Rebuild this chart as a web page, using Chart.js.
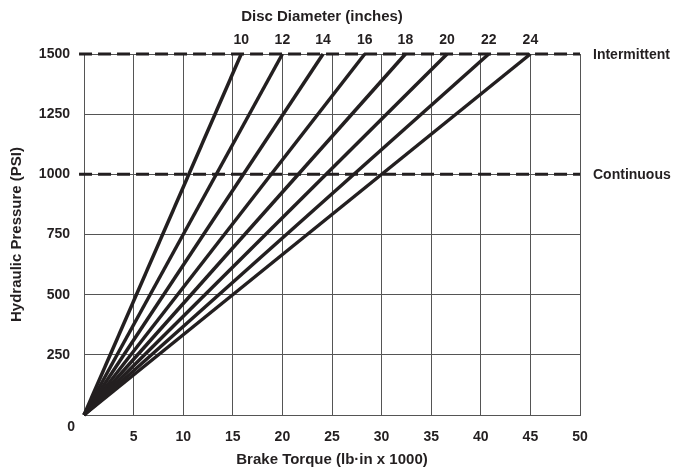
<!DOCTYPE html>
<html>
<head>
<meta charset="utf-8">
<script src="https://cdn.jsdelivr.net/npm/chart.js@4.4.1/dist/chart.umd.min.js"></script>
<style>
  html, body { margin: 0; padding: 0; background: #fff; }
  #wrap { width: 676px; height: 471px; }
</style>
</head>
<body>
<div id="wrap"><canvas id="chart" width="676" height="471"></canvas></div>
<script>
// disc diameter (inches) and brake torque (lb-in x 1000) reached at 1500 PSI
const diameters = [10, 12, 14, 16, 18, 20, 22, 24];
const torqueAt1500 = [15.85, 20.0, 24.1, 28.3, 32.4, 36.6, 40.8, 45.0];
const pressureLimits = [
  ["Intermittent", 1500],
  ["Continuous", 1000]
];
const xTicks = [5, 10, 15, 20, 25, 30, 35, 40, 45, 50];
const yTicks = [250, 500, 750, 1000, 1250, 1500];

const FONT = "'Liberation Sans', Arial, sans-serif";
const INK = "#231f20";

const lineSets = diameters.map((d, i) => ({
  label: `${d}"`,
  data: [{ x: 0, y: 0 }, { x: torqueAt1500[i], y: 1500 }],
  showLine: true,
  borderColor: INK,
  borderWidth: 3.5,
  pointRadius: 0,
  clip: false,
  order: 1
}));

const limitSets = pressureLimits.map(([name, psi]) => ({
  label: name,
  data: [{ x: -0.5, y: psi }, { x: 50, y: psi }],
  showLine: true,
  borderColor: INK,
  borderWidth: 3,
  borderDash: [13, 6],
  pointRadius: 0,
  clip: false,
  order: 2
}));

const labelsPlugin = {
  id: "labels",
  afterDraw(c) {
    const { ctx, scales: { x, y } } = c;
    ctx.save();
    ctx.fillStyle = INK;
    ctx.textBaseline = "middle";

    ctx.font = `bold 15px ${FONT}`;
    ctx.textAlign = "center";
    ctx.fillText("Disc Diameter (inches)", 322, 17);

    ctx.font = `bold 14px ${FONT}`;
    diameters.forEach((d, i) => {
      ctx.fillText(String(d), x.getPixelForValue(torqueAt1500[i]), 40);
    });

    ctx.textAlign = "left";
    pressureLimits.forEach(([name, psi]) => {
      ctx.fillText(name, x.right + 13, y.getPixelForValue(psi) + 1);
    });

    // shared origin label
    ctx.textAlign = "right";
    ctx.fillText("0", x.left - 9, y.bottom + 12);
    ctx.restore();
  }
};

new Chart(document.getElementById("chart"), {
  type: "scatter",
  data: { datasets: [...limitSets, ...lineSets] },
  options: {
    responsive: false,
    animation: false,
    layout: { padding: { top: 54, right: 96, left: 8, bottom: 2 } },
    plugins: { legend: { display: false }, tooltip: { enabled: false } },
    scales: {
      x: {
        type: "linear",
        min: 0,
        max: 50,
        afterBuildTicks: (s) => { s.ticks = [0, ...xTicks].map((v) => ({ value: v })); },
        afterFit: (s) => { s.height = 54; },
        grid: { color: "#555", lineWidth: 1, drawTicks: false },
        border: { color: "#555", width: 1 },
        ticks: {
          color: INK,
          padding: 14,
          maxRotation: 0,
          font: { family: FONT, weight: "bold", size: 14 },
          callback: (v) => (v === 0 ? "" : v)
        },
        title: {
          display: true,
          text: "Brake Torque (lb·in x 1000)",
          color: INK,
          font: { family: FONT, weight: "bold", size: 15 },
          padding: { top: 10, bottom: 0 }
        }
      },
      y: {
        min: 0,
        max: 1500,
        afterBuildTicks: (s) => { s.ticks = [0, ...yTicks].map((v) => ({ value: v })); },
        afterFit: (s) => { s.width = 76; },
        grid: { color: "#555", lineWidth: 1, drawTicks: false },
        border: { color: "#555", width: 1 },
        ticks: {
          color: INK,
          padding: 14,
          font: { family: FONT, weight: "bold", size: 14 },
          callback: (v) => (v === 0 ? "" : v)
        },
        title: {
          display: true,
          text: "Hydraulic Pressure (PSI)",
          color: INK,
          font: { family: FONT, weight: "bold", size: 15 },
          padding: { top: 0, bottom: 4 }
        }
      }
    }
  },
  plugins: [labelsPlugin]
});
</script>
</body>
</html>
